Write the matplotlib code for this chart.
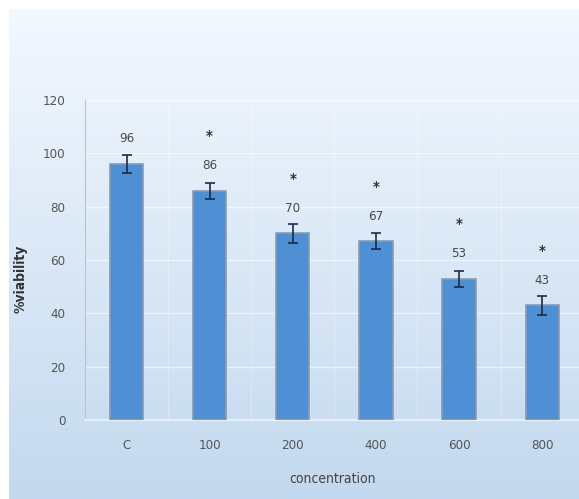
import numpy as np
import matplotlib
matplotlib.use("Agg")
import matplotlib.pyplot as plt
from matplotlib import font_manager

categories = ["C", "100", "200", "400", "600", "800"]
viability = [96, 86, 70, 67, 53, 43]
errors = [3.2, 3.0, 3.5, 3.0, 3.0, 3.5]
significant = [False, True, True, True, True, True]
yticks = [0, 20, 40, 60, 80, 100, 120]

plt.rcParams['font.family'] = ['DejaVu Sans']
plt.rcParams['font.stretch'] = 'condensed'

W, H = 579, 499
fig = plt.figure(figsize=(W/100, H/100), dpi=100)
fig.patch.set_facecolor("white")

# background gradient panel
bg = fig.add_axes([9/W, 0, 1 - 9/W, (H-9)/H])
grad = np.linspace(0, 1, 256).reshape(-1, 1)
top = np.array([0xF3, 0xF8, 0xFE]) / 255
bot = np.array([0xC3, 0xD9, 0xEF]) / 255
img = top + (bot - top) * grad[..., None]
img = img.reshape(256, 1, 3)
bg.imshow(img, aspect="auto", extent=[0, 1, 0, 1])
bg.set_axis_off()

ax = fig.add_axes([85/W, 79/H, (W-85)/W, 320/H])
ax.set_facecolor("none")
x = np.arange(len(categories))
ax.bar(x, viability, width=0.4, color="#4F8FD3", edgecolor="#8C9BAE", linewidth=1.2, zorder=3)
ax.errorbar(x, viability, yerr=errors, fmt="none", ecolor="#1F2A44", elinewidth=1.2,
            capsize=3.5, capthick=1.2, zorder=4)
for xi, v, e, s in zip(x, viability, errors, significant):
    ax.text(xi, v + 7, f"{v}", ha="center", va="bottom", fontsize=9.5, color="#4A4A4A", zorder=5)
    if s:
        ax.text(xi, v + 17, "*", ha="center", va="bottom", fontsize=10.5, color="#333333",
                fontweight="bold", zorder=5)

ax.set_xlim(-0.5, (W - 125) / 83.4)
ax.set_ylim(0, 120)
ax.set_yticks(yticks)
ax.set_xticks(x)
ax.set_xticklabels(categories)
ax.tick_params(axis="both", length=0, labelsize=9.5, colors="#555555")
ax.tick_params(axis="x", pad=14)
ax.tick_params(axis="y", pad=14)
for t in yticks[1:]:
    ax.axhline(t, color="white", lw=1.0, alpha=0.55, zorder=1)
for b in np.arange(-0.5, 6, 1):
    ax.axvline(b, color="white", lw=0.8, alpha=0.3, zorder=1)
for sp in ["top", "right"]:
    ax.spines[sp].set_visible(False)
ax.spines["left"].set_color("#B8C4D0")
ax.spines["bottom"].set_color("#E8F0F8")
ax.spines["bottom"].set_linewidth(1.5)

ax.set_xlabel("concentration", fontsize=10, color="#444444", labelpad=14)
ax.set_ylabel("%viability", fontsize=10, color="#333333", fontweight="bold")
ax.yaxis.set_label_coords(-(85 - 28) / (W - 85), 0.44)

fig.savefig("out.png", dpi=100)
